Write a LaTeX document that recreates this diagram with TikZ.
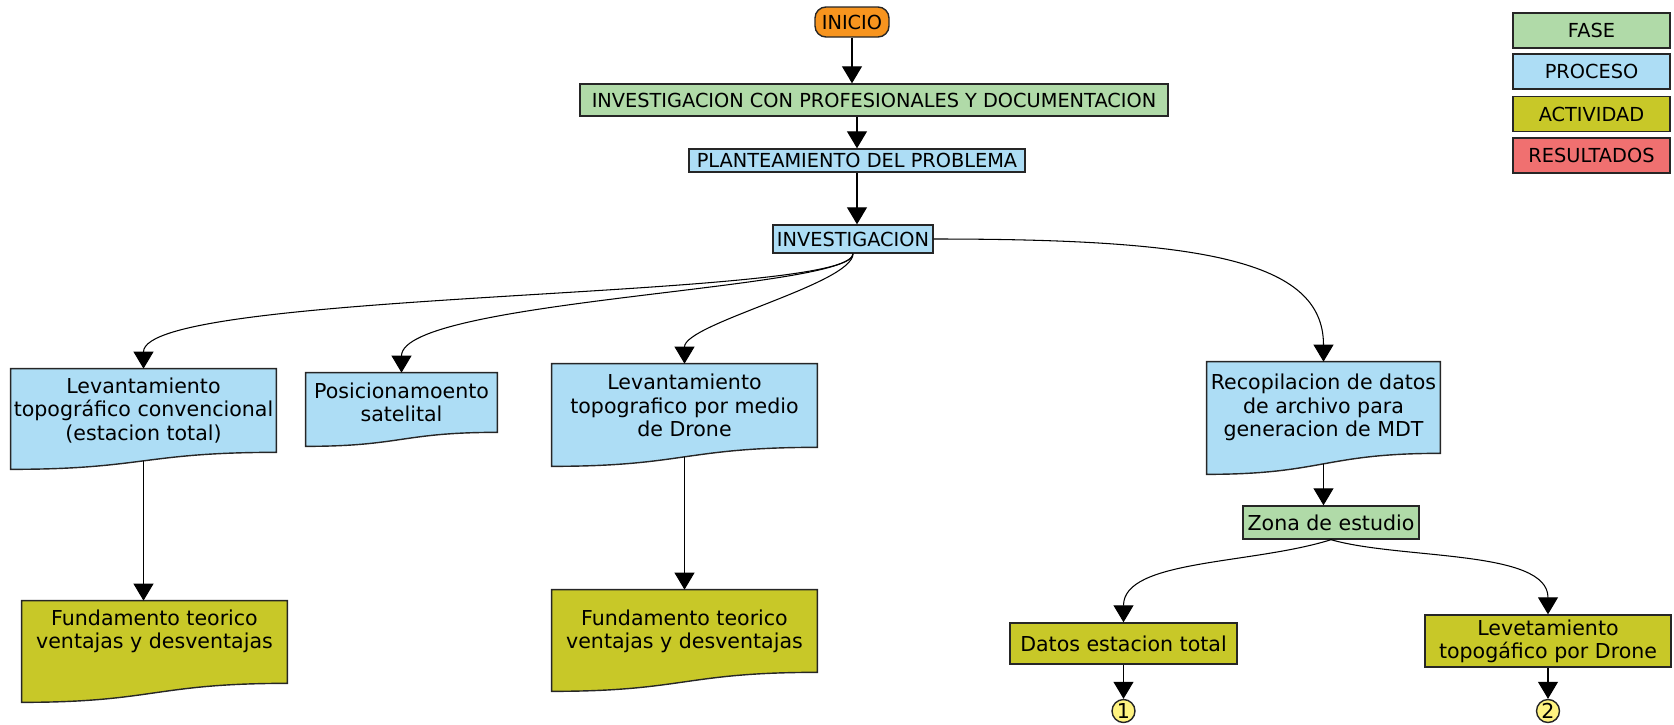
\documentclass[tikz,border=0pt]{standalone}
\usepackage{fontspec}
\setmainfont{DejaVu Sans}
\usetikzlibrary{arrows.meta,calc,backgrounds}
\definecolor{naranja}{RGB}{247,148,30}
\definecolor{verde}{RGB}{176,218,168}
\definecolor{celeste}{RGB}{173,221,245}
\definecolor{oliva}{RGB}{200,200,40}
\definecolor{rojo}{RGB}{240,112,112}
\definecolor{amarillo}{RGB}{255,243,128}
\newcommand{\fuenteA}{\fontsize{11}{13}\selectfont}
\newcommand{\fuenteB}{\fontsize{11.7}{13.2}\selectfont}
% hoja con borde inferior ondulado: nodo, color, caida
\newcommand{\hoja}[3]{%
	\draw[borde, fill=#2] (#1.north west) -- (#1.north east) -- (#1.south east)
		.. controls (#1.south) and ($(#1.south)+(0cm,-#3)$) .. ($(#1.south west)+(0cm,-#3)$) -- cycle;
	\coordinate (#1-w) at ($(#1.south)+(0cm,-#3/2)$);
}
\tikzset{
	borde/.style={draw=black!85, line width=0.8pt},
	base/.style={borde, inner sep=0pt, align=center, font=\fuenteA},
	inicio/.style={base, fill=naranja, rounded corners=0.22cm, minimum width=1.48cm, minimum height=0.6cm},
	fase/.style={base, fill=verde},
	proceso/.style={base, fill=celeste},
	actividad/.style={base, fill=oliva, font=\fuenteB},
	hojatxt/.style={inner sep=0pt, align=center, font=\fuenteB},
	numero/.style={circle, borde, fill=amarillo, inner sep=0pt, minimum size=0.46cm, font=\fuenteB},
	flecha/.style={-{Triangle[width=0.4cm,length=0.34cm]}, line width=0.6pt}
}

\begin{document}
\begin{tikzpicture}[x=0.02cm, y=-0.02cm]
	\useasboundingbox (0,0) rectangle (1674,724);

	% fases y procesos
	\node[inicio] (inicio) at (852,22) {INICIO};
	\node[fase, minimum width=11.76cm, minimum height=0.64cm] (doc) at (874,100) {INVESTIGACION CON PROFESIONALES Y DOCUMENTACION};
	\node[proceso, minimum width=6.72cm, minimum height=0.46cm] (problema) at (857,160.5) {PLANTEAMIENTO DEL PROBLEMA};
	\node[proceso, minimum width=3.2cm, minimum height=0.56cm] (inv) at (853,239) {INVESTIGACION};

	% leyenda
	\foreach \txt/\col/\yy in {FASE/verde/30.5, PROCESO/celeste/71.5, ACTIVIDAD/oliva/114, RESULTADOS/rojo/155.5}
		\node[base, fill=\col, minimum width=3.14cm, minimum height=0.7cm] (ley-\col) at (1591.5,\yy) {\txt};

	% hojas
	\node[hojatxt, minimum width=5.3cm, minimum height=1.66cm] (conv) at (143.5,410.5) {Levantamiento\\topográfico convencional\\(estacion total)};
	\node[hojatxt, minimum width=3.82cm, minimum height=1.18cm] (pos) at (401.5,402.5) {Posicionamoento\\satelital};
	\node[hojatxt, minimum width=5.3cm, minimum height=1.66cm] (drone) at (684.5,405.5) {Levantamiento\\topografico por medio\\de Drone};
	\node[hojatxt, minimum width=4.66cm, minimum height=1.82cm] (recop) at (1323.5,407.5) {Recopilacion de datos\\de archivo para\\generacion de MDT};
	\node[hojatxt, minimum width=5.3cm, minimum height=1.64cm, text depth=0.5cm] (fund1) at (154.5,642) {Fundamento teorico\\ventajas y desventajas};
	\node[hojatxt, minimum width=5.3cm, minimum height=1.64cm] (fund2) at (684.5,631) {Fundamento teorico\\ventajas y desventajas};
	\begin{scope}[on background layer]
		\hoja{conv}{celeste}{0.34cm}
		\hoja{pos}{celeste}{0.28cm}
		\hoja{drone}{celeste}{0.38cm}
		\hoja{recop}{celeste}{0.42cm}
		\hoja{fund1}{oliva}{0.38cm}
		\hoja{fund2}{oliva}{0.38cm}
	\end{scope}

	% zona de estudio
	\node[fase, font=\fuenteB, minimum width=3.52cm, minimum height=0.66cm] (zona) at (1331,522.5) {Zona de estudio};
	\node[actividad, minimum width=4.54cm, minimum height=0.82cm] (datos) at (1123.5,643.5) {Datos estacion total};
	\node[actividad, minimum width=4.92cm, minimum height=1.04cm] (lev) at (1548,641) {Levetamiento\\topogáfico por Drone};
	\node[numero] (uno) at (1123.5,711) {1};
	\node[numero] (dos) at (1548,711) {2};

	% conectores
	\draw[flecha] (inicio.south) -- (inicio.south |- doc.north);
	\draw[flecha] (problema.north |- doc.south) -- (problema.north);
	\draw[flecha] (problema.south) -- (problema.south |- inv.north);
	\draw[flecha] (inv.south) .. controls +(0,46) and +(0,-79) .. (conv.north);
	\draw[flecha] (inv.south) .. controls +(0,36) and +(0,-73) .. (pos.north);
	\draw[flecha] (inv.south) .. controls +(0,30) and +(0,-40) .. (drone.north);
	\draw[flecha] (inv.east) .. controls +(267,0) and +(0,-102) .. (recop.north);
	\draw[flecha] (conv-w) -- (conv-w |- fund1.north);
	\draw[flecha] (drone-w) -- (drone-w |- fund2.north);
	\draw[flecha] (recop-w) -- (recop-w |- zona.north);
	\draw[flecha] (zona.south) .. controls +(-80,25) and +(0,-63) .. (datos.north);
	\draw[flecha] (zona.south) .. controls +(70,20) and +(0,-65) .. (lev.north);
	\draw[flecha] (datos.south) -- (uno);
	\draw[flecha] (lev.south) -- (dos);
\end{tikzpicture}
\end{document}
